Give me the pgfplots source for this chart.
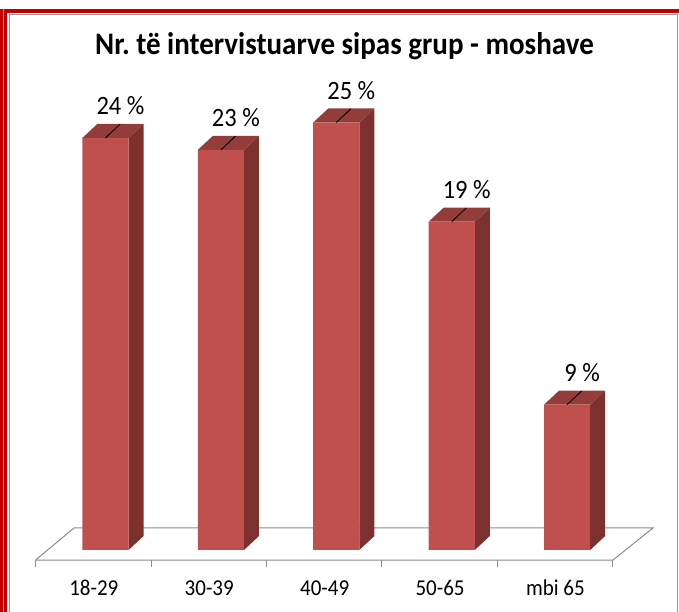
\documentclass[border=0pt]{standalone}
\usepackage{graphicx}
\usepackage{pgfplots}
\pgfplotsset{compat=1.18}
\usepackage{pgfplotstable}
\usepackage{fontspec}
\setmainfont{Carlito}
\frenchspacing
\definecolor{front}{HTML}{C0504D}
\definecolor{topc}{HTML}{933D3B}
\definecolor{sidec}{HTML}{7D312F}
\definecolor{floorc}{HTML}{8C8C8C}
\definecolor{frame}{HTML}{C00000}
\newcommand\st[1]{\scalebox{1}[1.08]{#1}}

\pgfplotstableread{
x y lbl
0 24.1 24
1 23.4 23
2 25.0 25
3 19.2 19
4 8.5 9
}\data

\begin{document}
\begin{tikzpicture}[x=1pt,y=1pt]
\useasboundingbox (0,0) rectangle (679,612);
\fill[frame] (0,0) rectangle (7.3,603);
\fill[frame] (0,598.7) rectangle (679,603);
\draw[white!60!frame, line width=0.8pt] (3.2,0) -- (3.2,603);
\draw[gray!80, line width=1.2pt] (9.7,0) -- (9.7,597.3) -- (677.6,597.3) -- (677.6,0);

\begin{axis}[
  at={(13.18pt,41.48pt)}, anchor=south west,
  x=115.4pt, y=17.1pt,
  xmin=-0.8, xmax=4.8, ymin=-1.2, ymax=27,
  enlargelimits=false, clip=false,
  axis line style={draw=none},
  major tick length=0pt,
  ytick=\empty,
  xtick={-0.101,0.899,1.899,2.899,3.899},
  xticklabels={\st{18-29},\st{30-39},\st{40-49},\st{50-65},\st{mbi 65}},
  xticklabel style={anchor=base, yshift=-25pt, font=\fontsize{21}{24}\selectfont},
]
\addplot[draw=floorc, fill=white, line width=1pt] coordinates {(-0.605,-0.585) (4.398,-0.585) (4.744,1.287) (-0.273,1.287) (-0.605,-0.585)};
\pgfplotsinvokeforeach{0,...,5}{
  \draw[floorc, line width=1pt] (axis cs:#1-0.605,-0.585) -- (axis cs:#1-0.605,-0.994);
}
\pgfplotsinvokeforeach{0,...,4}{
  \pgfplotstablegetelem{#1}{y}\of\data
  \pgfmathsetmacro\v{\pgfplotsretval}
  \pgfmathsetmacro\vt{\pgfplotsretval+0.819}
  \pgfmathsetmacro\xa{#1-0.2}
  \pgfmathsetmacro\xb{#1+0.2}
  \pgfmathsetmacro\xc{#1+0.33}
  \pgfmathsetmacro\xd{#1-0.07}
  \edef\temp{\noexpand\addplot[fill=sidec, draw=none] coordinates {(\xb,0) (\xb,\v) (\xc,\vt) (\xc,0.819)};
    \noexpand\addplot[fill=topc, draw=none] coordinates {(\xa,\v) (\xb,\v) (\xc,\vt) (\xd,\vt)};}
  \temp
}
\addplot[ybar, bar width=0.4, fill=front, draw=none] table[x=x,y=y]{\data};
\addplot[black, line width=0.9pt, quiver={u=0.126,v=0.8}] table[x=x,y=y]{\data};
\addplot[draw=none, point meta=explicit symbolic,
  nodes near coords={\st{\pgfplotspointmeta~\%}},
  every node near coord/.append style={anchor=base, yshift=9pt, font=\fontsize{24.5}{28}\selectfont}]
  table[x expr=\thisrow{x}+0.13, y expr=\thisrow{y}+0.82, meta=lbl]{\data};
\end{axis}
\node[font=\bfseries\fontsize{29}{33}\selectfont] at (344.5,566) {\st{Nr. të intervistuarve sipas grup - moshave}};
\end{tikzpicture}
\end{document}
